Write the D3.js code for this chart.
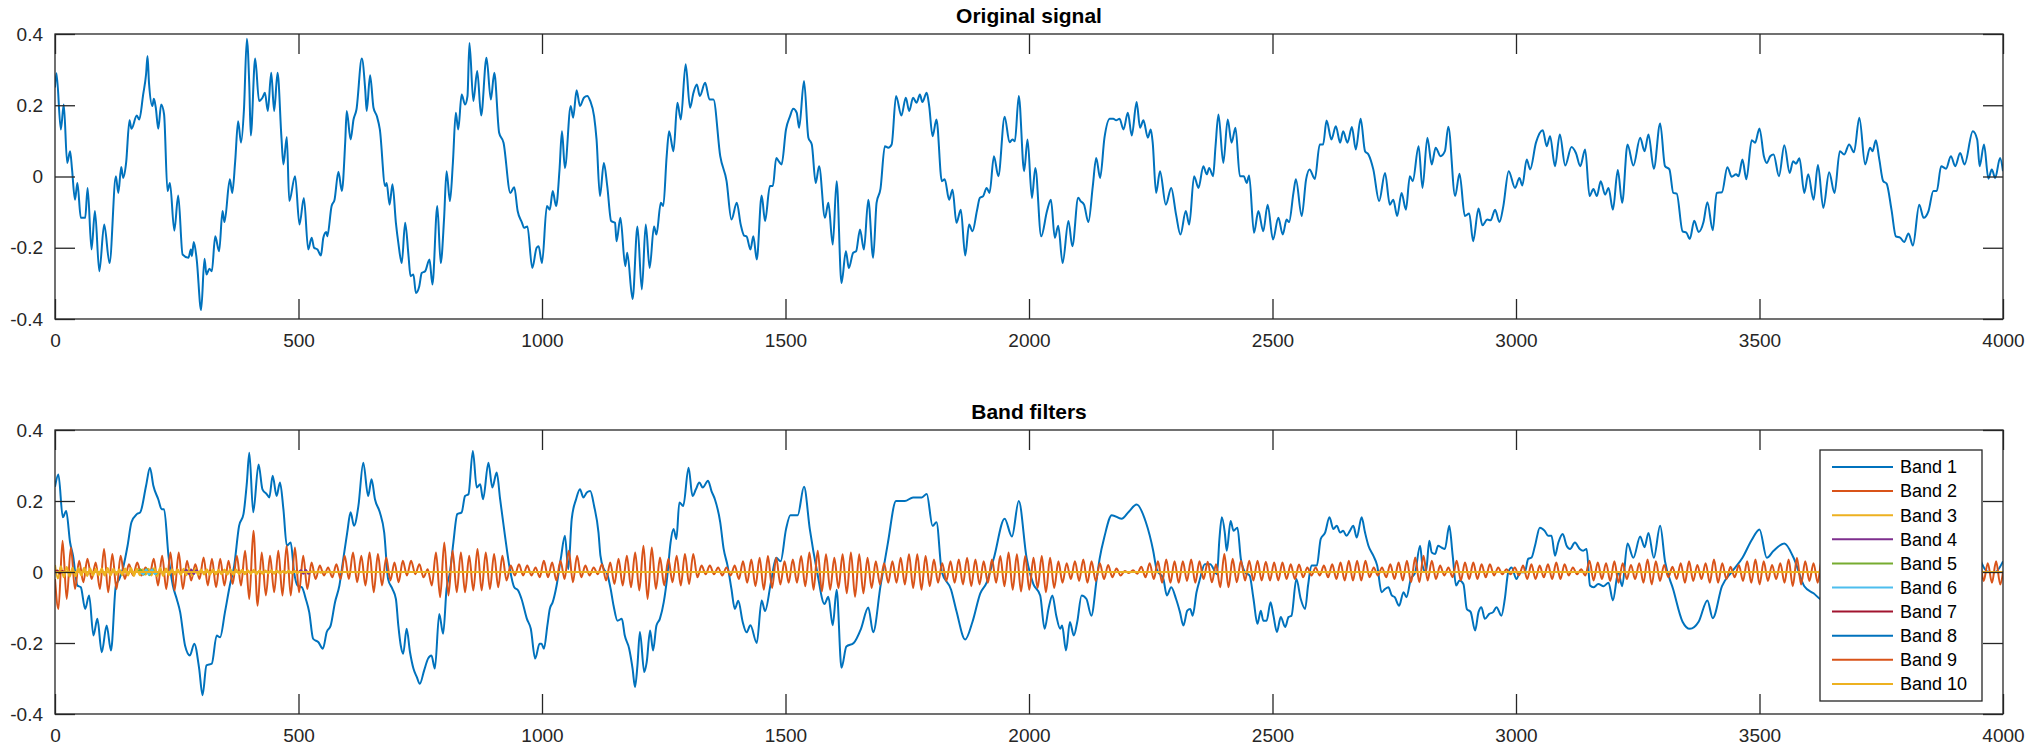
<!DOCTYPE html>
<html>
<head>
<meta charset="utf-8">
<script src="https://d3js.org/d3.v7.min.js"></script>
<title>Original signal / Band filters</title>
<style>
body { margin: 0; background: #fff; }
svg { display: block; font-family: "Liberation Sans", Arial, sans-serif; }
.axis text { font-size: 19px; fill: #262626; }
.axis path, .axis line { stroke: #262626; stroke-width: 1.3px; }
.title { font-size: 21px; font-weight: bold; fill: #000; text-anchor: middle; }
.legend text { font-size: 18px; fill: #000; }
</style>
</head>
<body>
<svg width="2031" height="748"></svg>
<script>

// values: [sample, value]
const originalSignal = [[0,0.25],[3,0.29],[12,0.132],[18,0.202],[25,0.038],[31,0.071],[35,0.020],[41,-0.065],[46,-0.018],[53,-0.116],[62,-0.116],[67,-0.032],[75,-0.205],[82,-0.097],[91,-0.266],[101,-0.135],[112,-0.243],[125,0.001],[130,-0.046],[136,0.027],[140,-0.004],[146,0.038],[153,0.158],[157,0.134],[168,0.171],[173,0.160],[181,0.230],[187,0.287],[190,0.338],[193,0.263],[200,0.198],[203,0.218],[207,0.193],[212,0.134],[218,0.202],[224,0.174],[231,-0.041],[236,-0.018],[245,-0.152],[253,-0.053],[262,-0.219],[274,-0.228],[279,-0.205],[281,-0.224],[285,-0.184],[291,-0.233],[300,-0.375],[307,-0.231],[311,-0.275],[317,-0.259],[322,-0.266],[329,-0.168],[337,-0.210],[344,-0.097],[348,-0.128],[359,-0.008],[364,-0.046],[370,0.043],[376,0.155],[382,0.095],[388,0.188],[394,0.387],[399,0.254],[402,0.115],[411,0.331],[419,0.212],[426,0.221],[431,0.235],[437,0.184],[444,0.291],[450,0.184],[457,0.291],[465,0.109],[469,0.034],[476,0.111],[481,-0.069],[493,0.001],[502,-0.135],[511,-0.060],[520,-0.205],[527,-0.172],[532,-0.200],[539,-0.205],[546,-0.222],[551,-0.172],[557,-0.156],[559,-0.168],[568,-0.083],[574,-0.065],[582,0.013],[589,-0.041],[596,0.099],[599,0.184],[607,0.104],[613,0.160],[619,0.188],[630,0.331],[637,0.244],[640,0.184],[647,0.284],[654,0.193],[661,0.169],[667,0.132],[678,-0.027],[681,-0.018],[687,-0.079],[693,-0.022],[700,-0.130],
[705,-0.186],[712,-0.243],[719,-0.130],[726,-0.224],[730,-0.280],[736,-0.275],[741,-0.327],[748,-0.308],[753,-0.271],[760,-0.266],[769,-0.233],[775,-0.303],[785,-0.083],[792,-0.243],[799,-0.116],[804,0.015],[811,-0.069],[817,0.038],[823,0.179],[828,0.132],[835,0.230],[842,0.202],[847,0.226],[851,0.375],[859,0.212],[867,0.296],[875,0.171],[886,0.333],[895,0.216],[902,0.291],[912,0.123],[921,0.095],[935,-0.046],[943,-0.030],[950,-0.097],[959,-0.130],[963,-0.144],[970,-0.140],[980,-0.257],[989,-0.200],[993,-0.196],[1000,-0.243],[1010,-0.083],[1016,-0.093],[1022,-0.041],[1029,-0.083],[1036,0.020],[1041,0.127],[1047,0.024],[1059,0.198],[1064,0.165],[1071,0.242],[1078,0.198],[1086,0.221],[1093,0.226],[1099,0.212],[1107,0.169],[1112,0.104],[1119,-0.055],[1127,0.038],[1134,-0.027],[1142,-0.125],[1150,-0.130],[1153,-0.182],[1161,-0.116],[1171,-0.252],[1175,-0.214],[1186,-0.344],[1196,-0.140],[1205,-0.317],[1213,-0.135],[1221,-0.257],[1230,-0.140],[1235,-0.163],[1244,-0.074],[1249,-0.083],[1256,0.057],[1261,0.127],[1270,0.071],[1278,0.207],[1285,0.160],[1295,0.315],[1304,0.193],[1311,0.235],[1318,0.258],[1324,0.226],[1335,0.263],[1344,0.216],[1352,0.216],[1366,0.057],[1379,-0.013],[1389,-0.121],[1400,-0.074],
[1408,-0.135],[1415,-0.166],[1420,-0.168],[1428,-0.205],[1434,-0.168],[1441,-0.233],[1451,-0.053],[1458,-0.125],[1468,-0.027],[1474,-0.027],[1481,0.052],[1486,0.043],[1492,0.034],[1501,0.132],[1509,0.168],[1516,0.190],[1523,0.179],[1528,0.137],[1538,0.268],[1547,0.109],[1554,0.090],[1562,-0.018],[1569,0.029],[1581,-0.116],[1588,-0.074],[1597,-0.191],[1605,-0.013],[1615,-0.299],[1624,-0.210],[1630,-0.257],[1639,-0.214],[1645,-0.210],[1653,-0.149],[1661,-0.205],[1670,-0.065],[1680,-0.228],[1687,-0.074],[1695,-0.035],[1704,0.085],[1711,0.081],[1718,0.090],[1727,0.226],[1738,0.171],[1747,0.221],[1754,0.184],[1762,0.221],[1769,0.207],[1776,0.230],[1781,0.209],[1790,0.235],[1795,0.198],[1802,0.113],[1810,0.160],[1821,-0.013],[1827,-0.008],[1836,-0.065],[1843,-0.037],[1851,-0.130],[1860,-0.093],[1869,-0.222],[1877,-0.135],[1884,-0.154],[1893,-0.097],[1899,-0.060],[1906,-0.055],[1913,-0.032],[1919,-0.046],[1928,0.057],[1937,0.001],[1950,0.168],[1960,0.096],[1966,0.104],[1971,0.099],[1979,0.226],[1990,0.015],[1997,0.104],[2006,-0.060],[2013,0.024],[2025,-0.168],[2037,-0.097],[2045,-0.065],[2053,-0.172],[2060,-0.138],[2069,-0.243],[2081,-0.125],[2089,-0.196],[2101,-0.060],
[2106,-0.069],[2113,-0.079],[2122,-0.128],[2131,-0.027],[2138,0.052],[2146,-0.004],[2155,0.109],[2166,0.162],[2173,0.162],[2179,0.158],[2186,0.162],[2194,0.132],[2203,0.179],[2211,0.115],[2221,0.209],[2228,0.137],[2235,0.158],[2244,0.109],[2250,0.132],[2254,0.095],[2261,-0.046],[2269,0.015],[2281,-0.079],[2292,-0.032],[2302,-0.107],[2311,-0.163],[2322,-0.097],[2329,-0.135],[2339,0.001],[2348,-0.032],[2358,0.029],[2365,0.006],[2370,0.024],[2378,0.001],[2383,0.085],[2389,0.174],[2399,0.038],[2408,0.160],[2416,0.095],[2424,0.137],[2433,0.001],[2441,0.001],[2447,-0.018],[2452,0.003],[2462,-0.158],[2471,-0.097],[2481,-0.154],[2490,-0.079],[2501,-0.177],[2512,-0.116],[2521,-0.163],[2529,-0.121],[2534,-0.128],[2543,-0.046],[2548,-0.008],[2560,-0.111],[2569,-0.008],[2576,0.020],[2587,-0.007],[2597,0.090],[2604,0.090],[2611,0.157],[2621,0.104],[2630,0.141],[2639,0.095],[2645,0.127],[2654,0.095],[2663,0.139],[2671,0.076],[2681,0.162],[2690,0.071],[2697,0.062],[2707,0.020],[2719,-0.069],[2731,0.010],[2741,-0.079],[2748,-0.065],[2756,-0.111],[2765,-0.046],[2774,-0.093],[2782,0.001],[2788,-0.013],[2800,0.085],
[2808,-0.032],[2818,0.109],[2827,0.034],[2835,0.081],[2845,0.057],[2854,0.071],[2861,0.140],[2875,-0.055],[2884,0.008],[2895,-0.111],[2904,-0.104],[2912,-0.182],[2923,-0.090],[2931,-0.137],[2941,-0.121],[2948,-0.123],[2957,-0.093],[2966,-0.128],[2974,-0.083],[2985,0.015],[2998,-0.032],[3007,-0.004],[3013,-0.025],[3022,0.048],[3029,0.020],[3041,0.095],[3055,0.130],[3063,0.085],[3070,0.113],[3080,0.029],[3090,0.118],[3101,0.031],[3114,0.083],[3123,0.066],[3132,0.029],[3142,0.076],[3151,-0.055],[3159,-0.035],[3166,-0.055],[3174,-0.013],[3183,-0.051],[3190,-0.032],[3199,-0.093],[3209,0.018],[3218,-0.074],[3229,0.090],[3241,0.031],[3255,0.109],[3264,0.071],[3272,0.118],[3283,0.022],[3296,0.149],[3306,0.029],[3315,0.020],[3323,-0.046],[3330,-0.048],[3342,-0.154],[3350,-0.158],[3357,-0.175],[3366,-0.124],[3375,-0.156],[3385,-0.128],[3393,-0.072],[3404,-0.151],[3412,-0.046],[3423,-0.044],[3434,0.026],[3443,-0.001],[3452,0.006],[3457,0.001],[3465,0.048],[3473,-0.008],[3484,0.102],[3491,0.095],[3500,0.135],
[3509,0.057],[3515,0.038],[3522,0.057],[3529,0.062],[3540,0.001],[3551,0.088],[3562,0.010],[3569,0.043],[3575,0.036],[3582,0.051],[3592,-0.046],[3600,0.006],[3611,-0.065],[3620,0.032],[3631,-0.088],[3643,0.012],[3654,-0.046],[3665,0.071],[3674,0.062],[3684,0.090],[3694,0.068],[3705,0.165],[3717,0.034],[3727,0.081],[3732,0.071],[3739,0.102],[3746,0.048],[3754,-0.013],[3761,-0.020],[3771,-0.093],[3780,-0.168],[3789,-0.172],[3797,-0.184],[3806,-0.160],[3815,-0.194],[3828,-0.079],[3837,-0.116],[3847,-0.097],[3857,-0.041],[3864,-0.041],[3873,0.029],[3883,0.022],[3893,0.057],[3902,0.029],[3912,0.066],[3921,0.034],[3938,0.127],[3947,0.104],[3952,0.029],[3961,0.090],[3970,-0.006],[3977,0.020],[3984,-0.004],[3994,0.052],[4000,0.015]];

const band1 = [[0,0.24],[7,0.275],[16,0.154],[23,0.172],[31,0.083],[37,0.046],[46,-0.038],[53,-0.043],[62,-0.104],[70,-0.066],[79,-0.179],[87,-0.132],[96,-0.226],[106,-0.151],[115,-0.221],[125,-0.038],[132,-0.020],[140,0.013],[149,0.074],[157,0.140],[168,0.163],[175,0.168],[187,0.243],[195,0.294],[202,0.243],[212,0.205],[219,0.177],[224,0.177],[233,0.046],[242,-0.038],[250,-0.076],[257,-0.113],[267,-0.207],[277,-0.235],[286,-0.202],[296,-0.272],[303,-0.347],[311,-0.263],[322,-0.258],[332,-0.179],[339,-0.184],[349,-0.113],[359,-0.038],[368,0.018],[378,0.130],[387,0.163],[394,0.252],[399,0.336],[407,0.168],[418,0.303],[426,0.233],[435,0.219],[440,0.210],[447,0.271],[455,0.214],[462,0.252],[469,0.177],[476,0.074],[484,0.083],[491,-0.001],[498,-0.038],[507,-0.043],[515,-0.076],[522,-0.113],[530,-0.188],[541,-0.198],[550,-0.216],[558,-0.169],[566,-0.151],[575,-0.085],[584,-0.038],[592,0.037],[600,0.111],[607,0.168],[614,0.130],[623,0.186],[633,0.308],[643,0.214],[650,0.261],[657,0.205],[667,0.168],[676,0.111],[684,-0.020],[693,-0.048],
[700,-0.076],[705,-0.151],[710,-0.207],[715,-0.230],[722,-0.160],[729,-0.226],[736,-0.272],[743,-0.296],[749,-0.315],[758,-0.277],[766,-0.244],[773,-0.235],[780,-0.272],[789,-0.118],[797,-0.174],[804,-0.048],[811,-0.001],[818,0.083],[826,0.163],[835,0.168],[842,0.214],[849,0.219],[858,0.341],[866,0.238],[873,0.247],[879,0.205],[890,0.308],[898,0.238],[907,0.280],[914,0.205],[924,0.102],[934,0.008],[943,-0.043],[951,-0.052],[958,-0.076],[969,-0.132],[977,-0.160],[986,-0.244],[995,-0.202],[999,-0.202],[1004,-0.216],[1011,-0.151],[1016,-0.104],[1022,-0.085],[1030,-0.038],[1039,0.041],[1047,0.102],[1054,0.008],[1061,0.149],[1070,0.205],[1078,0.233],[1085,0.210],[1092,0.224],[1099,0.228],[1107,0.186],[1116,0.111],[1120,0.046],[1127,0.008],[1134,-0.006],[1141,-0.048],[1147,-0.095],[1155,-0.137],[1164,-0.132],[1170,-0.179],[1179,-0.216],[1186,-0.272],[1191,-0.324],[1196,-0.263],[1201,-0.169],[1210,-0.282],[1215,-0.254],[1222,-0.165],[1228,-0.221],[1235,-0.151],[1242,-0.132],[1250,-0.085],[1257,-0.015],[1264,0.083],[1270,0.121],[1276,0.093],[1282,0.196],[1290,0.186],[1301,0.294],[1309,0.214],[1316,0.233],[1323,0.252],[1330,0.238],[1341,0.257],[1348,0.228],[1355,0.205],[1366,0.140],[1373,0.065],[1381,0.018],[1389,-0.048],[1396,-0.104],[1403,-0.081],
[1412,-0.14],[1420,-0.17],[1428,-0.15],[1441,-0.20],[1451,-0.08],[1458,-0.11],[1470,-0.03],[1481,0.04],[1490,0.03],[1501,0.12],[1510,0.16],[1525,0.16],[1538,0.24],[1550,0.12],[1565,0.0],[1580,-0.09],[1588,-0.07],[1597,-0.15],[1605,-0.05],[1615,-0.27],[1625,-0.21],[1640,-0.20],[1655,-0.16],[1670,-0.10],[1680,-0.17],[1695,-0.04],[1710,0.08],[1727,0.20],[1745,0.20],[1762,0.21],[1780,0.21],[1790,0.22],[1802,0.13],[1810,0.14],[1821,0.0],[1840,-0.05],[1851,-0.11],[1869,-0.19],[1884,-0.14],[1900,-0.06],[1913,-0.03],[1928,0.04],[1950,0.15],[1965,0.10],[1979,0.20],[1995,0.04],
[2009,-0.034],[2023,-0.066],[2032,-0.160],[2040,-0.104],[2048,-0.066],[2056,-0.123],[2064,-0.160],[2068,-0.151],[2076,-0.221],[2084,-0.141],[2092,-0.179],[2099,-0.141],[2108,-0.066],[2118,-0.076],[2128,-0.123],[2139,-0.020],[2145,0.037],[2155,0.10],[2170,0.16],[2190,0.15],[2205,0.17],[2221,0.19],[2240,0.14],[2255,0.06],[2262,0.008],[2276,-0.020],[2283,-0.066],[2292,-0.043],[2302,-0.076],[2310,-0.113],[2317,-0.151],[2325,-0.109],[2331,-0.104],[2336,-0.123],[2344,-0.057],
[2351,-0.020],[2361,0.022],[2372,0.022],[2386,-0.006],[2391,0.093],[2396,0.154],[2402,0.111],[2406,0.060],[2414,0.144],[2420,0.116],[2428,0.125],[2435,0.037],[2444,-0.001],[2453,-0.010],[2461,-0.076],[2469,-0.146],[2476,-0.109],[2481,-0.137],[2488,-0.137],[2496,-0.085],[2502,-0.123],[2509,-0.169],[2517,-0.127],[2526,-0.155],[2533,-0.127],[2539,-0.123],[2549,-0.020],[2558,-0.076],[2567,-0.104],[2573,-0.038],[2580,0.018],[2591,0.018],[2599,0.093],[2608,0.111],[2617,0.154],[2625,0.121],[2632,0.130],[2639,0.111],[2645,0.116],[2652,0.102],[2659,0.116],[2666,0.130],[2673,0.097],[2683,0.154],[2690,0.111],[2697,0.074],[2707,0.046],[2715,0.018],[2724,-0.057],[2731,-0.048],[2738,-0.043],[2745,-0.066],[2751,-0.071],[2760,-0.095],[2769,-0.057],[2775,-0.071],[2784,-0.020],[2793,-0.001],[2803,0.074],[2808,0.018],[2815,-0.001],[2822,0.088],[2827,0.055],[2834,0.051],[2840,0.074],[2847,0.069],[2854,0.065],[2863,0.130],[2870,0.046],[2877,-0.038],[2884,-0.024],[2892,-0.034],[2899,-0.104],[2907,-0.113],[2916,-0.165],[2923,-0.113],[2929,-0.099],[2936,-0.132],[2945,-0.118],[2953,-0.113],[2960,-0.099],[2970,-0.123],[2977,-0.076],[2984,-0.001],[2991,0.013],[3001,-0.020],[3008,-0.001],[3018,-0.001],[3025,0.037],[3032,0.041],[3039,0.074],[3049,0.125],[3059,0.116],[3066,0.102],[3073,0.102],[3080,0.046],[3087,0.083],[3096,0.107],[3104,0.074],[3111,0.065],[3121,0.083],[3131,0.065],[3138,0.060],[3145,0.065],[3152,-0.038],[3159,-0.043],[3169,-0.034],
[3180,-0.04],[3190,-0.03],[3199,-0.08],[3210,0.0],[3218,-0.04],[3229,0.08],[3241,0.04],[3255,0.10],[3264,0.07],[3272,0.11],[3283,0.04],[3296,0.13],[3306,0.03],[3323,-0.05],[3342,-0.14],[3357,-0.16],[3375,-0.14],[3393,-0.08],[3404,-0.13],[3423,-0.04],[3443,0.0],[3465,0.04],[3484,0.09],[3500,0.12],[3515,0.04],[3529,0.06],[3551,0.08],[3570,0.04],[3592,-0.04],[3611,-0.06],[3631,-0.08],[3654,-0.04],[3674,0.06],[3694,0.07],[3705,0.14],[3717,0.03],[3739,0.09],[3754,-0.01],[3771,-0.09],[3789,-0.16],[3815,-0.17],[3828,-0.08],[3847,-0.09],[3864,-0.04],[3883,0.02],[3902,0.03],[3921,0.04],[3938,0.11],[3952,0.04],[3970,0.0],[3984,0.0],[4000,0.03]];

// band 2: successive troughs and peaks, one every half period
const band2Start = 7;
const band2HalfPeriod = 8.52;
const band2Extremes = [-0.104,0.088,-0.076,0.069,-0.048,0.032,-0.029,0.037,-0.020,0.027,-0.048,0.065,-0.057,0.051,-0.048,0.046,-0.020,0.022,-0.010,0.027,-0.010,0.013,-0.006,0.037,-0.038,0.046,-0.048,0.055,-0.052,0.055,-0.048,0.032,-0.024,0.022,-0.020,0.041,-0.038,0.037,-0.043,0.037,-0.038,0.032,-0.034,0.046,-0.038,0.060,-0.076,0.116,-0.095,0.055,-0.066,0.046,-0.057,0.060,-0.066,0.074,-0.066,0.069,-0.057,0.046,-0.048,0.027,-0.020,0.018,-0.010,0.013,-0.015,0.022,-0.020,0.046,-0.020,0.055,-0.029,0.046,-0.038,0.055,-0.057,0.051,-0.038,0.041,-0.024,0.027,-0.029,
0.032,-0.010,0.032,-0.006,0.022,-0.015,0.008,-0.038,0.055,-0.071,0.083,-0.066,0.060,-0.057,0.055,-0.057,0.046,-0.052,0.065,-0.052,0.055,-0.048,0.051,-0.043,0.046,-0.024,0.018,-0.010,0.022,-0.010,0.018,-0.010,0.013,-0.015,0.032,-0.015,0.027,-0.024,0.032,-0.020,0.060,-0.029,0.046,-0.015,0.018,-0.010,0.013,-0.006,0.022,-0.024,0.027,-0.034,0.037,-0.038,0.046,-0.043,0.055,-0.052,0.074,-0.076,0.069,-0.048,0.041,-0.038,0.037,-0.029,0.046,-0.038,0.051,-0.034,0.051,-0.015,0.018,-0.006,0.018,-0.006,0.013,-0.010,0.013,-0.010,0.018,-0.020,
0.03,-0.03,0.035,-0.04,0.04,-0.05,0.045,-0.045,0.04,-0.035,0.03,-0.03,0.035,-0.03,0.045,-0.04,0.055,-0.05,0.06,-0.055,0.05,-0.05,0.04,-0.045,0.05,-0.06,0.055,-0.07,0.05,-0.06,0.04,-0.045,0.03,-0.035,0.025,-0.03,0.03,-0.03,0.04,-0.035,0.05,-0.045,0.05,-0.05,0.045,-0.04,0.035,-0.03,0.025,-0.025,0.03,-0.03,0.035,-0.035,0.04,-0.04,0.035,-0.035,0.03,-0.03,0.035,-0.03,0.045,-0.04,0.055,-0.05,0.05,-0.055,0.045,-0.05,0.04,-0.045,0.045,-0.057,0.04,-0.045,0.03,-0.03,0.025,-0.02,0.03,-0.025,0.035,-0.03,0.03,-0.025,0.025,-0.02,0.02,-0.015,0.01,-0.01,0.003,-0.003,0.005,-0.005,0.015,-0.015,0.025,-0.02,0.03,-0.03,0.035,-0.03,0.03,-0.03,0.03,-0.025,0.035,-0.03,0.03,
-0.020,0.029,-0.029,0.022,-0.043,0.051,-0.043,0.037,-0.029,0.032,-0.024,0.032,-0.024,0.032,-0.024,0.029,-0.024,0.027,-0.024,0.027,-0.020,0.022,-0.020,0.021,-0.015,0.013,-0.010,0.013,-0.010,0.018,-0.015,0.022,-0.020,0.027,-0.024,0.032,-0.024,0.032,-0.024,0.032,-0.015,0.013,-0.010,0.013,-0.015,0.022,-0.020,0.027,-0.024,0.032,-0.029,0.041,-0.029,0.046,-0.024,0.032,-0.020,0.018,-0.010,0.013,-0.015,0.032,-0.024,0.027,-0.020,0.027,-0.020,0.022,-0.015,0.022,-0.010,0.013,-0.006,0.008,-0.006,0.013,-0.010,0.018,-0.020,0.022,-0.020,0.018,-0.015,0.022,-0.020,0.027,-0.020,0.022,-0.010,0.013,-0.006,0.008,-0.010,0.032,-0.024,0.027,
-0.02,0.025,-0.025,0.03,-0.03,0.025,-0.02,0.02,-0.02,0.025,-0.03,0.035,-0.035,0.03,-0.025,0.02,-0.015,0.015,-0.02,0.025,-0.03,0.03,-0.025,0.02,-0.02,0.025,-0.03,0.035,-0.03,0.025,-0.02,0.015,-0.015,0.02,-0.025,0.03,-0.03,0.035,-0.035,0.03,-0.025,0.02,-0.02,0.025,-0.03,0.035,-0.04,0.04,-0.035,0.03,-0.025,0.025,-0.03,0.035,-0.035,0.03,-0.025,0.02,-0.02,0.025,-0.03,0.03,-0.025,0.02,-0.015,0.015,-0.02,0.025,-0.03,0.03,-0.03,0.025,-0.02,0.02,-0.025,0.03,-0.035,0.035,-0.03,0.025,-0.02,0.02,-0.025,0.03,-0.03,0.025,-0.02,0.02,-0.025,0.03,-0.03,0.03,-0.025,0.025,-0.03,0.03,-0.035];

// band 3: small ripple at the start, every 6 samples
const band3Step = 6;
const band3Ripple = [0.02,-0.018,0.016,-0.015,0.014,-0.013,0.012,-0.012,0.011,-0.01,0.012,-0.011,0.01,-0.01,0.009,-0.009,0.01,-0.01,0.011,-0.01,0.009,-0.008,0.008,-0.009,0.01,-0.01,0.011,-0.011,0.01,-0.009,0.008,-0.008,0.009,-0.01,0.011,-0.012,0.012,-0.011,0.01,-0.009,0.008,-0.007,0.008,-0.008,0.009,-0.009,0.01,-0.01,0.009,-0.008,0.007,-0.007,0.008,-0.008,0.007,-0.007,0.006,-0.006,0.007,-0.007,0.008,-0.008,0.007,-0.006,0.006,-0.006,0.005,-0.005,0.006,-0.006,0.005,-0.005,0.004,-0.004,0.005,-0.005,0.004,-0.004,0.003,-0.003,0.004,-0.004,0.003,-0.003,0.003,-0.003,0.002,-0.002,0.002,-0.002,0.002,-0.002,0.001,-0.001,0.001,-0.001,0,0,0,0];

// the remaining bands stay almost on zero
const band4 = [[0,0],[265,0],[270,0.006],[275,-0.006],[280,0.007],[285,-0.006],[290,0.005],[295,0],[500,0],[505,0.005],[510,-0.005],[515,0.006],[520,-0.005],[525,0],[4000,0]];
const band5 = [[0,0],[170,0],[176,0.008],[182,-0.008],[188,0.009],[194,-0.009],[200,0.008],[206,-0.006],[212,0],[4000,0]];
const band6 = [[0,0],[175,0],[181,-0.007],[187,0.007],[193,-0.008],[199,0.007],[205,-0.006],[211,0],[4000,0]];
const band7 = [[0,0],[5,0.004],[10,-0.004],[15,0.003],[20,0],[4000,0]];
const band8 = [[0,0],[4000,0]];
const band9 = [[0,0],[4000,0]];
const band10 = [[0,0],[4000,0]];

const bandNames = ["Band 1","Band 2","Band 3","Band 4","Band 5","Band 6","Band 7","Band 8","Band 9","Band 10"];
const bandColors = ["#0072BD","#D95319","#EDB120","#7E2F8E","#77AC30","#4DBEEE","#A2142F","#0072BD","#D95319","#EDB120"];
const xTicks = [0,500,1000,1500,2000,2500,3000,3500,4000];
const yTicks = [-0.4,-0.2,0,0.2,0.4];
const yTickLabels = ["-0.4","-0.2","0","0.2","0.4"];

let svg = d3.select("svg");
let left = 55, right = 2003;
let tickLen = 20;

let x = d3.scaleLinear().domain([0, 4000]).range([left, right]);

function band2Points() {
  let pts = [[0, -0.02]];
  band2Extremes.forEach(function(v, i) { pts.push([band2Start + i*band2HalfPeriod, v]); });
  pts.push([4000, 0]);
  return pts;
}

function band3Points() {
  let pts = band3Ripple.map(function(v, i) { return [i*band3Step, v]; });
  pts.push([4000, 0]);
  return pts;
}

function drawPanel(top, bottom, title, series, id) {
  let y = d3.scaleLinear().domain([-0.4, 0.4]).range([bottom, top]);

  svg.append("clipPath").attr("id", id)
    .append("rect").attr("x", left).attr("y", top)
    .attr("width", right-left).attr("height", bottom-top);

  let line = d3.line()
    .x(function(d){ return x(d[0]); })
    .y(function(d){ return y(d[1]); })
    .curve(d3.curveMonotoneX);

  let g = svg.append("g").attr("clip-path", "url(#" + id + ")");
  series.forEach(function(s) {
    g.append("path")
      .attr("d", line(s.data))
      .attr("fill", "none")
      .attr("stroke", s.color)
      .attr("stroke-width", 2)
      .attr("stroke-linejoin", "round");
  });

  // ticks point inward on all four sides
  svg.append("g").attr("class", "axis")
    .attr("transform", "translate(0," + bottom + ")")
    .call(d3.axisBottom(x).tickValues(xTicks).tickFormat(d3.format("d"))
      .tickSizeInner(-tickLen).tickSizeOuter(0).tickPadding(15));
  svg.append("g").attr("class", "axis")
    .attr("transform", "translate(0," + top + ")")
    .call(d3.axisTop(x).tickValues(xTicks).tickFormat("")
      .tickSizeInner(-tickLen).tickSizeOuter(0));
  svg.append("g").attr("class", "axis")
    .attr("transform", "translate(" + left + ",0)")
    .call(d3.axisLeft(y).tickValues(yTicks).tickFormat(function(d, i){ return yTickLabels[i]; })
      .tickSizeInner(-tickLen).tickSizeOuter(0).tickPadding(12));
  svg.append("g").attr("class", "axis")
    .attr("transform", "translate(" + right + ",0)")
    .call(d3.axisRight(y).tickValues(yTicks).tickFormat("")
      .tickSizeInner(-tickLen).tickSizeOuter(0));

  svg.selectAll(".axis .domain").remove();
  svg.append("rect")
    .attr("x", left).attr("y", top)
    .attr("width", right-left).attr("height", bottom-top)
    .attr("fill", "none").attr("stroke", "#262626").attr("stroke-width", 1.3);

  svg.append("text").attr("class", "title")
    .attr("x", (left+right)/2).attr("y", top - 11)
    .text(title);
}

function drawLegend(lx, ly, w, rowH) {
  let g = svg.append("g").attr("class", "legend");
  g.append("rect")
    .attr("x", lx).attr("y", ly)
    .attr("width", w).attr("height", rowH*bandNames.length + 10)
    .attr("fill", "#fff").attr("stroke", "#262626").attr("stroke-width", 1.3);
  bandNames.forEach(function(name, i) {
    let cy = ly + 17 + i*rowH;
    g.append("line")
      .attr("x1", lx+12).attr("x2", lx+73)
      .attr("y1", cy).attr("y2", cy)
      .attr("stroke", bandColors[i]).attr("stroke-width", 2);
    g.append("text")
      .attr("x", lx+80).attr("y", cy).attr("dy", "0.35em")
      .text(name);
  });
}

function drawAll() {
  drawPanel(34, 319, "Original signal",
    [{data: originalSignal, color: "#0072BD"}], "clipTop");

  let bands = [band1, band2Points(), band3Points(), band4, band5, band6, band7, band8, band9, band10];
  drawPanel(430, 714, "Band filters",
    bands.map(function(b, i){ return {data: b, color: bandColors[i]}; }), "clipBottom");

  drawLegend(1820, 450, 162, 24.1);
}

drawAll();

</script>
